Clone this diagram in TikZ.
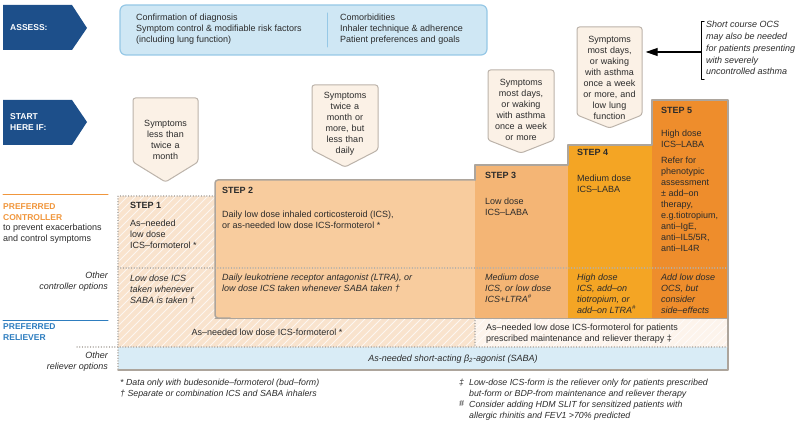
\documentclass[tikz,border=0pt]{standalone}
\usepackage{fontspec}
\setmainfont{Liberation Sans}
\usetikzlibrary{arrows.meta}
\usetikzlibrary{positioning}

\definecolor{bannerblue}{HTML}{1D4F8A}
\definecolor{assessfill}{HTML}{CFE7F4}
\definecolor{assessline}{HTML}{96C8E6}
\definecolor{symfill}{HTML}{FBF1E6}
\definecolor{symline}{HTML}{BCB3AA}
\definecolor{stepone}{HTML}{F9E3CD}
\definecolor{steptwo}{HTML}{F8CC9E}
\definecolor{stepthree}{HTML}{F4B575}
\definecolor{stepfour}{HTML}{F4A524}
\definecolor{stepfive}{HTML}{EE8D2C}
\definecolor{relright}{HTML}{FDF4EC}
\definecolor{sabafill}{HTML}{D9ECF6}
\definecolor{stairgray}{HTML}{ADA59C}
\definecolor{dotgray}{HTML}{B5B0AA}
\definecolor{txtgray}{HTML}{2B2B2B}
\definecolor{ctrlorange}{HTML}{F0963C}
\definecolor{relblue}{HTML}{2E7DBF}

\begin{document}
\begin{tikzpicture}[x=1pt,y=-1pt,line cap=round,line join=round,>={Triangle[length=12pt,width=8pt]},
  banner/.style={fill=bannerblue},
  bannertext/.style={text=white,font=\bfseries\fontsize{8.5}{11}\selectfont,anchor=west,align=left,inner sep=0pt},
  assessbox/.style={draw=assessline,fill=assessfill,line width=1.2pt,rounded corners=6pt},
  symbox/.style={draw=symline,fill=symfill,line width=1pt,rounded corners=2.5pt},
  symtext/.style={text=txtgray,font=\fontsize{9}{11}\selectfont,align=center,text width=64pt,inner sep=0pt},
  bodytext/.style={text=txtgray,font=\fontsize{9}{11}\selectfont,anchor=north west,align=left,inner sep=0pt},
  othertext/.style={bodytext,font=\itshape\fontsize{9}{11}\selectfont},
  steplabel/.style={text=txtgray,font=\bfseries\fontsize{9}{11}\selectfont,anchor=north west,inner sep=0pt},
  sidelabel/.style={font=\bfseries\fontsize{8.5}{11}\selectfont,anchor=north west,align=left,inner sep=0pt},
  sidetext/.style={text=txtgray,font=\itshape\fontsize{9}{11}\selectfont,anchor=north east,align=right,inner sep=0pt},
  hatch/.style={white,line width=0.8pt,opacity=0.7},
  stairline/.style={stairgray,line width=1.5pt},
  dotline/.style={dotgray,line width=1.3pt,dash pattern=on 0.1pt off 2.6pt},
  notesmall/.style={text=txtgray,font=\itshape\fontsize{8.8}{11}\selectfont,anchor=north west,align=left,inner sep=0pt}]
\useasboundingbox (0,0) rectangle (803,422);

% banners on the left
\fill[banner] (3,5) -- (72,5) -- (87,28) -- (72,50) -- (3,50) -- cycle;
\node[bannertext] (assess) at (10,28) {ASSESS:};
\fill[banner] (3,100) -- (72,100) -- (87,122) -- (72,145) -- (3,145) -- cycle;
\node[bannertext] (start) at (10,122) {START\\HERE IF:};

% assess box
\draw[assessbox] (120,5) rectangle (487,55);
\draw[assessline,line width=1pt] (327,13) -- (327,47);
\node[bodytext] (assessl) at (136,14) {Confirmation of diagnosis\\Symptom control \& modifiable risk factors\\(including lung function)};
\node[bodytext] (assessr) at (340,14) {Comorbidities\\Inhaler technique \& adherence\\Patient preferences and goals};

% symptom callouts
\draw[symbox] (133,98) -- (198,98) -- (198,162) -- (165.5,182) -- (133,162) -- cycle;
\node[symtext] (sym1) at (165.5,139.5) {Symptoms\\less than\\twice a\\month};
\draw[symbox] (312,85) -- (378,85) -- (378,150) -- (345,167) -- (312,150) -- cycle;
\node[symtext] (sym2) at (345,123.5) {Symptoms\\twice a\\month or\\more, but\\less than\\daily};
\draw[symbox] (488,70) -- (554,70) -- (554,140) -- (521,153) -- (488,140) -- cycle;
\node[symtext] (sym3) at (521,109.5) {Symptoms\\most days,\\or waking\\with asthma\\once a week\\or more};
\draw[symbox] (577,27) -- (642,27) -- (642,115) -- (609.5,128) -- (577,115) -- cycle;
\node[symtext] (sym4) at (609.5,77.5) {Symptoms\\most days,\\or waking\\with asthma\\once a week\\or more, and\\low lung\\function};

% OCS note
\draw[black,line width=1pt] (704,22) -- (701,22) -- (701,80) -- (704,80);
\coordinate (ocsnote) at (701,52);
\node[othertext,font=\itshape\fontsize{9}{11.8}\selectfont] (ocs) at (706,21) {Short course OCS\\may also be needed\\for patients presenting\\with severely\\uncontrolled asthma};
\draw[->,black,line width=1.2pt,shorten >=4pt] (ocsnote) -- (ocsnote -| sym4.east);

% step fills
\fill[stepone] (118,196) rectangle (215,318);
\fill[stepone] (118,318) rectangle (475,347);
\fill[relright] (475,318) rectangle (728,347);
\begin{scope}
\clip (118,196) rectangle (215,318) (118,318) rectangle (728,347);
\foreach \i in {0,8,...,1000}
  \draw[hatch] (\i-300,400) -- (\i,100);
\end{scope}
\fill[steptwo,rounded corners=3pt] (215,318) -- (215,180) -- (476,180) -- (476,318) -- cycle;
\fill[stepthree] (475,165) rectangle (568,318);
\fill[stepfour] (568,145) rectangle (652,318);
\fill[stepfive] (652,100) rectangle (728,318);
\fill[sabafill] (118,347) rectangle (728,370);

% outlines
\draw[stairline,rounded corners=3pt] (230,318) -- (215,318) -- (215,180) -- (475,180);
\draw[stairline] (475,180) -- (475,165) -- (568,165) -- (568,145) -- (652,145) -- (652,100) -- (728,100) -- (728,370) -- (118,370);
\draw[stairgray,line width=0.8pt] (215,318) -- (728,318);
\draw[dotline] (215,196) -- (118,196) -- (118,370);
\draw[dotline] (118,268) -- (728,268);
\draw[dotline] (77,347) -- (728,347);
\draw[dotline] (475,318) -- (475,347);

% left labels
\draw[ctrlorange,line width=1pt] (3,195) -- (108,195);
\node[sidelabel,text=ctrlorange] (ctrl) at (3,203) {PREFERRED\\CONTROLLER};
\node[bodytext] (ctrlsub) at (3,223.5) {to prevent exacerbations\\and control symptoms};
\node[sidetext] (otherctrl) at (108,271.5) {Other\\controller options};
\draw[relblue,line width=1pt] (3,320) -- (108,320);
\node[sidelabel,text=relblue] (rel) at (3,323) {PREFERRED\\RELIEVER};
\node[sidetext] (otherrel) at (108,351.5) {Other\\reliever options};

% step texts
\node[steplabel] (s1) at (130,202.5) {STEP 1};
\node[bodytext] (s1ctrl) at (130,219.5) {As–needed\\low dose\\ICS–formoterol *};
\node[othertext] (s1other) at (130,274.5) {Low dose ICS\\taken whenever\\SABA is taken †};
\node[steplabel] (s2) at (222,187.5) {STEP 2};
\node[bodytext] (s2ctrl) at (222,210.5) {Daily low dose inhaled corticosteroid (ICS),\\or as-needed low dose ICS-formoterol *};
\node[othertext] (s2other) at (222,273.5) {Daily leukotriene receptor antagonist (LTRA), or\\low dose ICS taken whenever SABA taken †};
\node[steplabel] (s3) at (485,172.5) {STEP 3};
\node[bodytext] (s3ctrl) at (485,197.5) {Low dose\\ICS–LABA};
\node[othertext] (s3other) at (485,273.5) {Medium dose\\ICS, or low dose\\ICS+LTRA\textsuperscript{\#}};
\node[steplabel] (s4) at (577,149.5) {STEP 4};
\node[bodytext] (s4ctrl) at (577,174.5) {Medium dose\\ICS–LABA};
\node[othertext] (s4other) at (577,273.5) {High dose\\ICS, add–on\\tiotropium, or\\add–on LTRA\textsuperscript{\#}};
\node[steplabel] (s5) at (661,107.5) {STEP 5};
\node[bodytext] (s5ctrl) at (661,129.5) {High dose\\ICS–LABA};
\node[bodytext] (s5refer) at (661,156.5) {Refer for\\phenotypic\\assessment\\± add–on\\therapy,\\e.g.tiotropium,\\anti–IgE,\\anti–IL5/5R,\\anti–IL4R};
\node[othertext] (s5other) at (661,273.5) {Add low dose\\OCS, but\\consider\\side–effects};

% reliever rows
\node[bodytext,anchor=base] (relpref) at (267,335) {As–needed low dose ICS-formoterol *};
\node[bodytext] (relmart) at (486,323.5) {As–needed low dose ICS-formoterol for patients\\prescribed maintenance and reliever therapy ‡};
\node[othertext,anchor=base] (saba) at (453,361) {As-needed short-acting β\textsubscript{2}-agonist (SABA)};

% footnotes
\node[notesmall] (fnleft) at (120,378.5) {* Data only with budesonide–formoterol (bud–form)\\† Separate or combination ICS and SABA inhalers};
\node[notesmall] (fnsyma) at (459,378.5) {‡};
\node[notesmall] (fnsymb) at (459,400.5) {\#};
\node[notesmall] (fnright) at (469,378.5) {Low-dose ICS-form is the reliever only for patients prescribed\\but-form or BDP-from maintenance and reliever therapy\\Consider adding HDM SLIT for sensitized patients with\\allergic rhinitis and FEV1 >70\% predicted};
\end{tikzpicture}
\end{document}
